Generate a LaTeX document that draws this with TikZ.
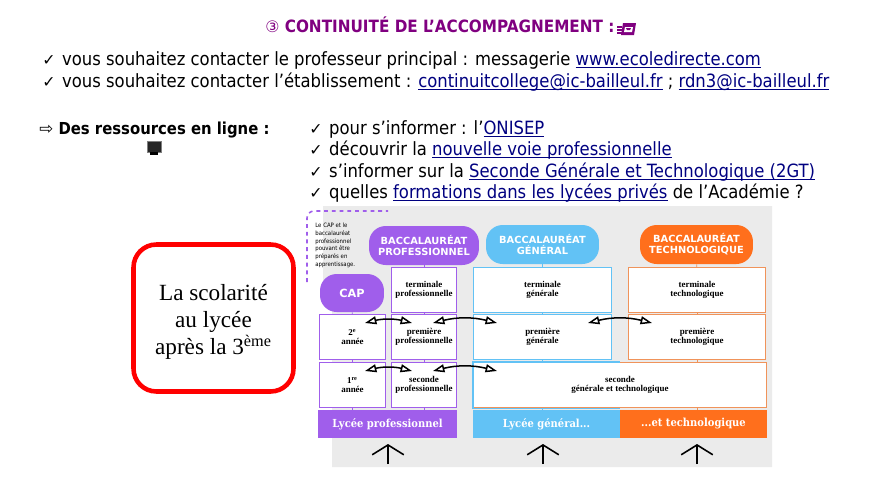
\documentclass[tikz,border=0pt]{standalone}
\usepackage{fontspec}
\setmainfont{DejaVu Sans Condensed}
\newfontfamily\symbfont{DejaVu Sans}
\newfontfamily\redfont{Liberation Serif}
\newfontfamily\pillfont{DejaVu Sans}
\newfontfamily\slabfont{DejaVu Serif Condensed}
\newfontfamily\boxfont{Liberation Serif}
\usetikzlibrary{positioning,arrows.meta,shapes.geometric}
\definecolor{titlepurple}{HTML}{800080}
\definecolor{linkblue}{HTML}{000080}
\definecolor{bgray}{HTML}{EBEBEB}
\definecolor{propurple}{HTML}{A05EEB}
\definecolor{genblue}{HTML}{62C2F5}
\definecolor{tecorange}{HTML}{FF6F1C}
\definecolor{tecline}{HTML}{F0935A}
\newcommand{\lnk}[1]{\textcolor{linkblue}{\setbox0\hbox{#1}\rlap{\rule[-1.5pt]{\wd0}{0.5pt}}\box0}}
\newcommand{\chk}{\makebox[11.3pt][l]{\symbfont\fontsize{9}{9}\selectfont ✓}}
\tikzset{
  txtline/.style={anchor=base west, inner sep=0pt, font=\fontsize{10.4}{11}\selectfont},
  pill/.style={rounded corners=9.5pt, minimum height=0.78cm, minimum width=2.26cm, text=white, align=center,
    font=\pillfont\bfseries\fontsize{5.6}{6.2}\selectfont},
  yearbox/.style={draw, fill=white, line width=0.75pt, minimum height=0.9cm, align=center, inner sep=0pt,
    font=\boxfont\bfseries\fontsize{5.1}{5}\selectfont},
  schoolbar/.style={minimum height=0.56cm, inner sep=0pt, text=white,
    font=\slabfont\bfseries\fontsize{6.3}{7}\selectfont},
  tick/.style={line width=0.5pt},
  swap/.style={{Triangle[open,length=6.5pt,width=4.5pt]}-{Triangle[open,length=6.5pt,width=4.5pt]}, line width=0.85pt, bend left=14},
  uparrow/.style={-{Straight Barb[length=5.6pt,width=18pt]}, line width=0.9pt},
}
\begin{document}
\begin{tikzpicture}[x=0.02cm,y=-0.02cm]
  \useasboundingbox (0,0) rectangle (894,498);

  %titre
  \node[txtline, text=titlepurple, font=\bfseries\fontsize{9.65}{12}\selectfont] (title) at (265,32)
    {{\symbfont\mdseries\fontsize{9}{12}\selectfont ③} CONTINUITÉ DE L’ACCOMPAGNEMENT :};
  \fill[titlepurple] (623,23) -- (636,23) -- (634,35) -- (621,35) -- cycle;
  \fill[white] (625,27) -- (633,27) -- (632,32) -- (624,32) -- cycle;
  \fill[titlepurple] (626,28) -- (631,28) -- (630,30) -- (627,30) -- cycle;
  \draw[titlepurple, line width=0.6pt] (617,27) -- (622,27) (617,30) -- (622,30) (617,33) -- (622,33);

  %contacts
  \node[txtline] (contact1) at (42,65) {\chk vous souhaitez contacter le professeur principal : messagerie \lnk{www.ecoledirecte.com}};
  \node[txtline] (contact2) at (42,87) {\chk vous souhaitez contacter l’établissement : \lnk{continuitcollege@ic-bailleul.fr} ; \lnk{rdn3@ic-bailleul.fr}};

  %ressources
  \node[txtline, font=\bfseries\fontsize{9.4}{11}\selectfont] (res) at (39,134) {{\symbfont\mdseries\fontsize{9.5}{9}\selectfont ⇨} Des ressources en ligne :};
  \fill[black!85] (147,141) rectangle (161,152);
  \draw[gray, line width=0.5pt] (147,141) rectangle (161,152);
  \fill[black] (150,152) rectangle (158,155);
  \node[txtline] (info1) at (309,134) {\chk pour s’informer : l’\lnk{ONISEP}};
  \node[txtline] (info2) at (309,155) {\chk découvrir la \lnk{nouvelle voie professionnelle}};
  \node[txtline] (info3) at (309,177) {\chk s’informer sur la \lnk{Seconde Générale et Technologique (2GT)}};
  \node[txtline] (info4) at (309,198) {\chk quelles \lnk{formations dans les lycées privés} de l’Académie ?};

  %cadre rouge
  \node[draw=red, line width=2.6pt, rounded corners=13pt, minimum width=3.2cm, minimum height=2.94cm] (scol) at (213.5,318) {};
  \node[align=center, inner sep=0pt, font=\redfont\fontsize{13.2}{15.2}\selectfont] (scoltxt) at (213.5,322)
    {La scolarité\\au lycée\\après la 3\textsuperscript{ème}};

  %fond gris
  \fill[bgray] (323,206) -- (772,206) -- (772,467) -- (332,467) -- (332,300) -- (323,300) -- cycle;
  \draw[propurple, dash pattern=on 2.2pt off 2.2pt, line width=0.9pt, rounded corners=4pt] (307,282) -- (307,211) -- (388,211);
  \node[anchor=north west, inner sep=0pt, align=left, font=\fontsize{3.4}{4.35}\selectfont] (note) at (315,223)
    {Le CAP et le\\baccalauréat\\professionnel\\pouvant être\\préparés en\\apprentissage.};

  %baccalaureats
  \node[pill, fill=propurple, minimum width=2.2cm] (bacpro) at (424,245.5) {BACCALAURÉAT\\PROFESSIONNEL};
  \node[pill, fill=genblue] (bacgen) at (542.5,244.5) {BACCALAURÉAT\\GÉNÉRAL};
  \node[pill, fill=tecorange] (bactec) at (696.5,244.5) {BACCALAURÉAT\\TECHNOLOGIQUE};
  \node[pill, fill=propurple, minimum width=1.28cm, minimum height=0.76cm,
    font=\pillfont\bfseries\fontsize{6.4}{7}\selectfont] (cap) at (352,293) {CAP};

  %annees voie pro
  \node[yearbox, draw=propurple, minimum width=1.3cm] (termpro) at (424,290) {terminale\\professionnelle};
  \node[yearbox, draw=propurple, minimum width=1.3cm] (prempro) at (424,337) {première\\professionnelle};
  \node[yearbox, draw=propurple, minimum width=1.3cm] (secpro) at (424,385) {seconde\\professionnelle};
  \node[yearbox, draw=propurple, minimum width=1.32cm] (annee2) at (352.5,337) {2\textsuperscript{e}\\année};
  \node[yearbox, draw=propurple, minimum width=1.32cm] (annee1) at (352.5,385) {1\textsuperscript{re}\\année};

  %annees voie generale et techno
  \node[yearbox, draw=genblue, minimum width=2.76cm] (termgen) at (542.5,290) {terminale\\générale};
  \node[yearbox, draw=genblue, minimum width=2.76cm] (premgen) at (542.5,337) {première\\générale};
  \node[yearbox, draw=tecline, minimum width=2.74cm] (termtec) at (697,290) {terminale\\technologique};
  \node[yearbox, draw=tecline, minimum width=2.74cm] (premtec) at (697,337) {première\\technologique};
  \node[yearbox, draw=tecline, minimum width=5.86cm] (secgt) at (620,385) {seconde\\générale et technologique};
  \draw[genblue, line width=0.75pt] (secgt.north) -| (secgt.west) |- (secgt.south);

  %lycees
  \node[schoolbar, fill=propurple, minimum width=2.78cm] (lycpro) at (387.5,424) {Lycée professionnel};
  \node[schoolbar, fill=genblue, minimum width=2.94cm] (lycgen) at (546.5,424) {Lycée général...};
  \node[schoolbar, fill=tecorange, minimum width=2.94cm] (lyctec) at (693.5,424) {...et technologique};

  %petits traits
  \draw[tick, propurple] (bacpro) -- (termpro);
  \draw[tick, propurple] (termpro) -- (prempro);
  \draw[tick, propurple] (prempro) -- (secpro);
  \draw[tick, propurple] (secpro) -- (secpro |- lycpro.north);
  \draw[tick, propurple] (cap) -- (annee2);
  \draw[tick, propurple] (annee2) -- (annee1);
  \draw[tick, propurple] (annee1) -- (annee1 |- lycpro.north);
  \draw[tick, genblue] (bacgen) -- (termgen);
  \draw[tick, genblue] (termgen) -- (premgen);
  \draw[tick, genblue] (premgen) -- (premgen |- secgt.north);
  \draw[tick, genblue] (premgen |- secgt.south) -- (premgen |- lycgen.north);
  \draw[tick, tecline] (bactec) -- (termtec);
  \draw[tick, tecline] (termtec) -- (premtec);
  \draw[tick, tecline] (premtec) -- (premtec |- secgt.north);
  \draw[tick, tecline] (premtec |- secgt.south) -- (premtec |- lyctec.north);

  %passerelles
  \coordinate (a1) at (365,323);
  \coordinate (a2) at (412,323);
  \coordinate (a3) at (433,323);
  \coordinate (a4) at (497,323);
  \coordinate (a5) at (365,371);
  \coordinate (a6) at (412,371);
  \coordinate (a7) at (433,371);
  \coordinate (a8) at (497,371);
  \coordinate (a9) at (588,323);
  \coordinate (a10) at (652,323);
  \draw[swap] (a1) to (a2);
  \draw[swap] (a3) to (a4);
  \draw[swap] (a5) to (a6);
  \draw[swap] (a7) to (a8);
  \draw[swap] (a9) to (a10);

  %fleches du bas
  \foreach \xpos/\nom in {388/up1,543/up2,697/up3}{
    \coordinate (\nom a) at (\xpos,464);
    \coordinate (\nom b) at (\xpos,444);
    \draw[uparrow] (\nom a) -- (\nom b);
  }
\end{tikzpicture}
\end{document}
